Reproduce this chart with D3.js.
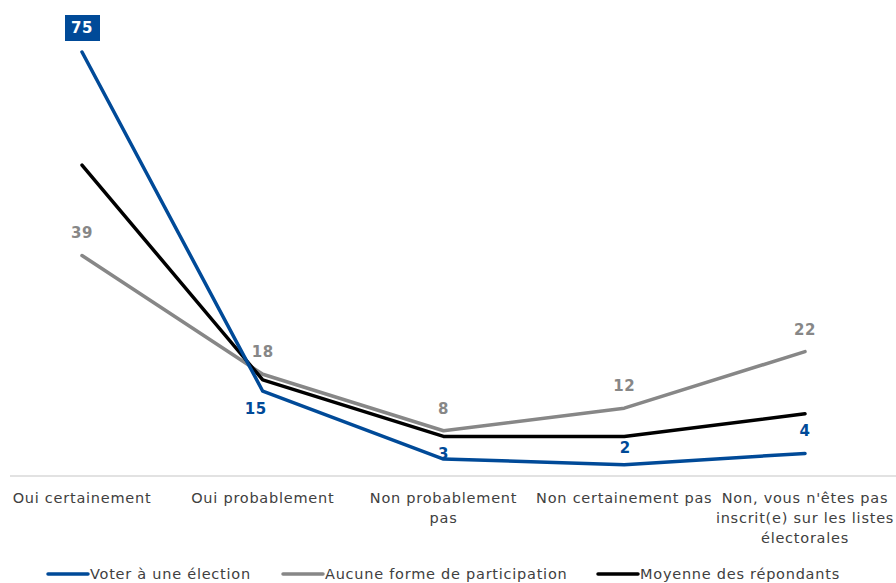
<!DOCTYPE html>
<html>
<head>
<meta charset="utf-8">
<script src="https://cdn.jsdelivr.net/npm/d3@7"></script>
<style>
  body { margin: 0; background: #fff; }
  svg { display: block; font-family: "DejaVu Sans", Verdana, sans-serif; }
</style>
</head>
<body>
<svg id="chart" width="896" height="583"></svg>
<script>
const categories = [
  ["Oui certainement"],
  ["Oui probablement"],
  ["Non probablement", "pas"],
  ["Non certainement pas"],
  ["Non, vous n'êtes pas", "inscrit(e) sur les listes", "électorales"]
];
const voter = [75, 15, 3, 2, 4];
const aucune = [39, 18, 8, 12, 22];
const moyenne = [55, 17, 7, 7, 11];

const seriesNames = ["Voter à une élection", "Aucune forme de participation", "Moyenne des répondants"];
const colors = ["#004a98", "#878787", "#000000"];

const svg = d3.select("#chart");

const x = d3.scalePoint().domain(d3.range(categories.length)).range([82, 805]);
const y = d3.scaleLinear().domain([0, 75]).range([476, 52]);

// axis line
svg.append("line")
  .attr("x1", 10).attr("x2", 896)
  .attr("y1", 476).attr("y2", 476)
  .attr("stroke", "#d9d9d9").attr("stroke-width", 1.3);

// category labels
categories.forEach((lines, i) => {
  const t = svg.append("text")
    .attr("x", x(i)).attr("y", 503)
    .attr("text-anchor", "middle")
    .attr("font-size", 14.5)
    .attr("letter-spacing", 0.75)
    .attr("fill", "#404040");
  lines.forEach((l, j) => {
    t.append("tspan").attr("x", x(i)).attr("dy", j ? 20 : 0).text(l);
  });
});

const line = d3.line().x((d, i) => x(i)).y(d => y(d));
const allSeries = [aucune, moyenne, voter];
const allColors = [colors[1], colors[2], colors[0]];

allSeries.forEach((s, k) => {
  svg.append("path")
    .datum(s)
    .attr("d", line)
    .attr("fill", "none")
    .attr("stroke", allColors[k])
    .attr("stroke-width", 3.5)
    .attr("stroke-linejoin", "round")
    .attr("stroke-linecap", "round");
});

// data labels
const grayDy = [-23, -22, -22, -22, -22];
svg.append("g").selectAll("text")
  .data(aucune).join("text")
  .attr("x", (d, i) => x(i))
  .attr("y", (d, i) => y(d) + grayDy[i])
  .attr("dominant-baseline", "central")
  .attr("text-anchor", "middle")
  .attr("font-size", 15).attr("font-weight", "bold")
  .attr("letter-spacing", 0.5)
  .attr("fill", colors[1])
  .text(d => d);

const blueDx = [0, -7, 0, 1, 0];
const blueDy = [-24, 18, -5, -17, -22];
const blueG = svg.append("g");
voter.forEach((d, i) => {
  const cx = x(i) + blueDx[i], cy = y(d) + blueDy[i];
  if (i === 0) {
    blueG.append("rect")
      .attr("x", cx - 17).attr("y", cy - 13)
      .attr("width", 35).attr("height", 26)
      .attr("fill", colors[0]);
  }
  blueG.append("text")
    .attr("x", cx).attr("y", cy)
    .attr("dominant-baseline", "central")
    .attr("text-anchor", "middle")
    .attr("font-size", 15).attr("font-weight", "bold")
    .attr("letter-spacing", 0.5)
    .attr("fill", i === 0 ? "#fff" : colors[0])
    .text(d);
});

// legend
const legendX = [48, 283, 598];
seriesNames.forEach((n, i) => {
  const g = svg.append("g").attr("transform", `translate(${legendX[i]},574)`);
  g.append("line").attr("x1", 0).attr("x2", 40)
    .attr("stroke", colors[i]).attr("stroke-width", 3.5)
    .attr("stroke-linecap", "round");
  g.append("text").attr("x", 42).attr("y", 0)
    .attr("dominant-baseline", "central")
    .attr("font-size", 14.5)
    .attr("letter-spacing", 0.75)
    .attr("fill", "#404040")
    .text(n);
});
</script>
</body>
</html>
